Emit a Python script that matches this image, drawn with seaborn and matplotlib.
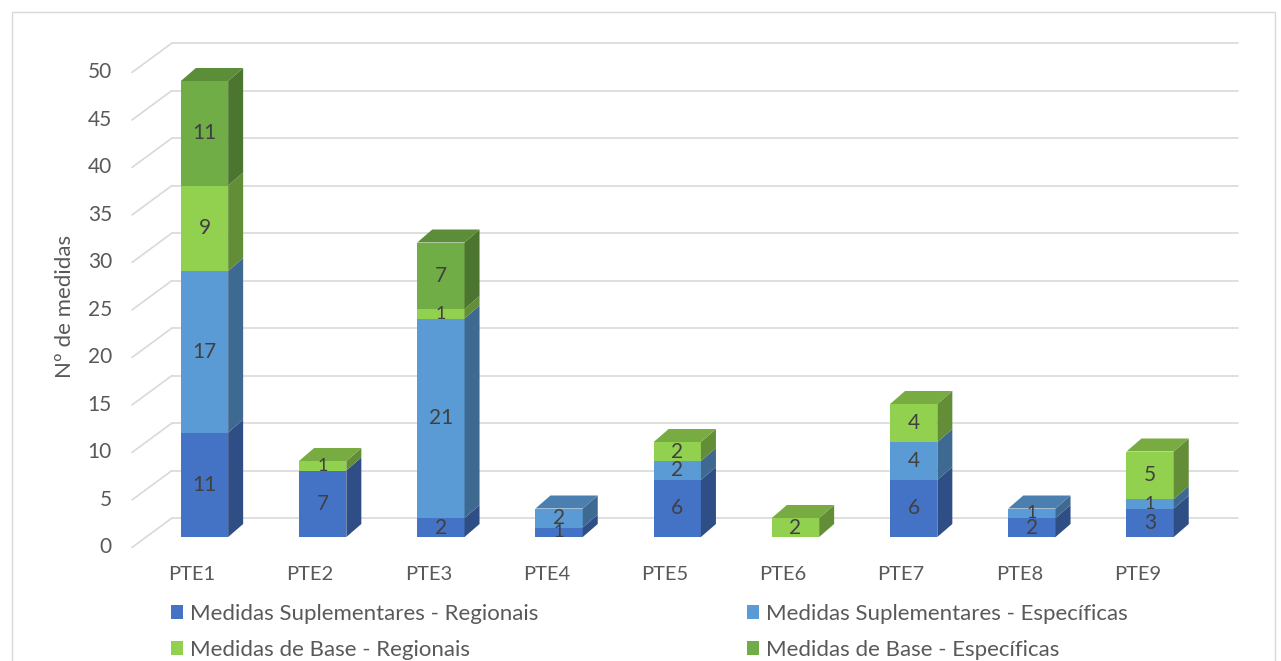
import numpy as np
import pandas as pd
import matplotlib
matplotlib.use("Agg")
import matplotlib.pyplot as plt
import seaborn as sns
from matplotlib.patches import Polygon, Patch, Rectangle
from matplotlib.colors import to_rgb

# data
categories = ["PTE1", "PTE2", "PTE3", "PTE4", "PTE5", "PTE6", "PTE7", "PTE8", "PTE9"]
sup_regionais = [11, 7, 2, 1, 6, 0, 6, 2, 3]
sup_especificas = [17, 0, 21, 2, 2, 0, 4, 1, 1]
base_regionais = [9, 1, 1, 0, 2, 2, 4, 0, 5]
base_especificas = [11, 0, 7, 0, 0, 0, 0, 0, 0]
series_names = [
    "Medidas Suplementares - Regionais",
    "Medidas Suplementares - Específicas",
    "Medidas de Base - Regionais",
    "Medidas de Base - Específicas",
]
y_ticks = list(range(0, 51, 5))

colors = ["#4472C4", "#5B9BD5", "#92D050", "#70AD47"]
text_col = "#595959"
grid_col = "#D9D9D9"


def shade(c, f):
    r, g, b = to_rgb(c)
    return (r * f, g * f, b * f)


sns.set_theme(style="white")
plt.rcParams["font.family"] = ["Lato", "DejaVu Sans"]

df = pd.DataFrame({
    "cat": categories,
    series_names[0]: sup_regionais,
    series_names[1]: sup_especificas,
    series_names[2]: base_regionais,
    series_names[3]: base_especificas,
})
values = df[series_names].to_numpy()
cum = values.cumsum(axis=1)

W, H = 1281, 661
fig = plt.figure(figsize=(W / 100, H / 100), dpi=100)
ax = fig.add_axes([0, 0, 1, 1])

# pixel -> data mapping (front plane of the bars)
px_unit_x = 118.2
px_unit_y = 9.5
x0_px, y0_px = 204.5, 537


def dx(px):
    return (px - x0_px) / px_unit_x


def dy(py):
    return (y0_px - py) / px_unit_y


bar_w = 0.40
depth_x = 15 / px_unit_x
depth_y = 13 / px_unit_y

# back wall gridlines + diagonal tick connectors
for v in y_ticks:
    ax.plot([dx(172), dx(1238)], [v + 2.0, v + 2.0], color=grid_col, lw=1.2, zorder=0)
    ax.plot([dx(132), dx(172)], [v - 1.1, v + 2.0], color=grid_col, lw=1.2, zorder=0)
    ax.text(dx(112), v - 1.1, str(v), ha="right", va="center",
            fontsize=15, color=text_col)

# stacked bars: draw cumulative totals from top layer down
for k in range(len(series_names) - 1, -1, -1):
    sns.barplot(x=df["cat"], y=cum[:, k], color=colors[k], width=bar_w,
                saturation=1, errorbar=None, ax=ax, zorder=2, linewidth=0)

# 3D side and top faces
for i in range(len(categories)):
    bottom = 0
    top_k = None
    for k in range(len(series_names)):
        v = values[i, k]
        if v <= 0:
            continue
        xr = i + bar_w / 2
        side = Polygon([(xr, bottom), (xr + depth_x, bottom + depth_y),
                        (xr + depth_x, bottom + v + depth_y), (xr, bottom + v)],
                       closed=True, facecolor=shade(colors[k], 0.68),
                       edgecolor="none", zorder=3)
        ax.add_patch(side)
        # tiny segments get a slightly smaller label, as they crowd each other
        fs = 13 if v == 1 else 15
        ax.text(i, bottom + v / 2, str(v), ha="center", va="center",
                fontsize=fs, color="#404040", zorder=5)
        bottom += v
        top_k = k
    if top_k is not None:
        xl, xr = i - bar_w / 2, i + bar_w / 2
        top = Polygon([(xl, bottom), (xl + depth_x, bottom + depth_y),
                       (xr + depth_x, bottom + depth_y), (xr, bottom)],
                      closed=True, facecolor=shade(colors[top_k], 0.82),
                      edgecolor="none", zorder=3)
        ax.add_patch(top)

# category labels
for i, c in enumerate(categories):
    ax.text(i - 0.106, dy(575), c, ha="center", va="center",
            fontsize=14.5, color=text_col)

ax.text(dx(65), dy(306), "Nº de medidas", rotation=90, ha="center",
        va="center", fontsize=16, color=text_col)

ax.set_xlim(dx(0), dx(W))
ax.set_ylim(dy(H), dy(0))
ax.axis("off")

handles = [Patch(facecolor=colors[k], edgecolor="none") for k in (0, 2, 1, 3)]
labels = [series_names[k] for k in (0, 2, 1, 3)]
ax.legend(handles, labels, ncol=2, loc="upper left",
          bbox_to_anchor=(171 / W, 1 - 604 / H), frameon=False,
          fontsize=16, labelcolor=text_col, handlelength=0.55, handleheight=0.55,
          handletextpad=0.3, columnspacing=9.4, labelspacing=0.72,
          borderpad=0, borderaxespad=0)

fig.patches.append(Rectangle((12 / W, -0.05), (1275 - 12) / W, 1.05 - 12 / H,
                             transform=fig.transFigure, fill=False,
                             edgecolor=grid_col, lw=1.0))

fig.savefig("out.png", dpi=100)
